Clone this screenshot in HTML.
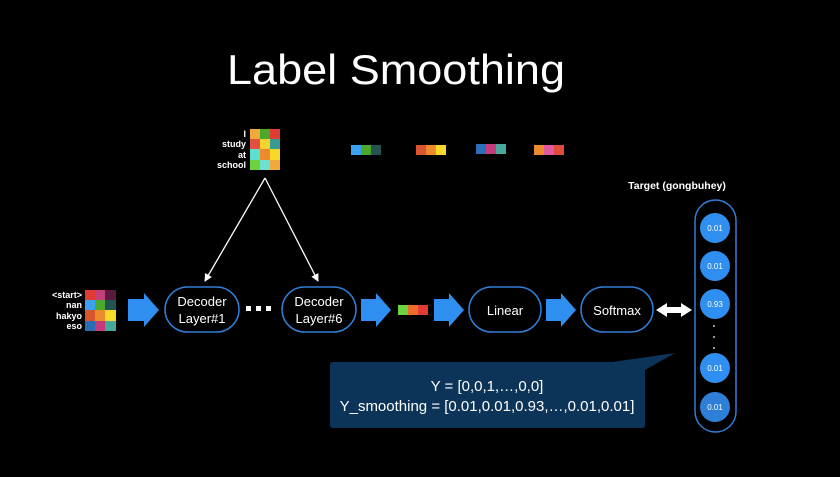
<!DOCTYPE html>
<html><head><meta charset="utf-8"><style>
html,body{margin:0;padding:0;background:#000;}
svg{display:block;font-family:"Liberation Sans",sans-serif;}
</style></head><body>
<svg width="840" height="477" viewBox="0 0 840 477" xmlns="http://www.w3.org/2000/svg">
<rect width="840" height="477" fill="#000"/>
<text x="396" y="84" fill="#fff" font-size="42" text-anchor="middle" textLength="338" lengthAdjust="spacingAndGlyphs">Label Smoothing</text>

<!-- top grid -->
<g font-size="9" font-weight="bold" fill="#fff" text-anchor="end">
<text x="246" y="137">I</text><text x="246" y="147">study</text><text x="246" y="158">at</text><text x="246" y="168">school</text>
</g>
<g>
<rect x="250" y="129" width="10" height="10" fill="#f2a93b"/><rect x="260" y="129" width="10" height="10" fill="#4aa82a"/><rect x="270" y="129" width="10" height="10" fill="#e03c33"/>
<rect x="250" y="139" width="10" height="10" fill="#e4503f"/><rect x="260" y="139" width="10" height="10" fill="#f5d52d"/><rect x="270" y="139" width="10" height="10" fill="#379b92"/>
<rect x="250" y="149" width="10" height="11" fill="#5ee0cf"/><rect x="260" y="149" width="10" height="11" fill="#ee8a2e"/><rect x="270" y="149" width="10" height="11" fill="#f7d92a"/>
<rect x="250" y="160" width="10" height="10" fill="#6cd240"/><rect x="260" y="160" width="10" height="10" fill="#6ee0d2"/><rect x="270" y="160" width="10" height="10" fill="#f2a93b"/>
</g>

<!-- small top vectors -->
<rect x="351" y="145" width="10" height="10" fill="#3aa1f5"/><rect x="361" y="145" width="10" height="10" fill="#4aa82a"/><rect x="371" y="145" width="10" height="10" fill="#245450"/>
<rect x="416" y="145" width="10" height="10" fill="#d9552f"/><rect x="426" y="145" width="10" height="10" fill="#ee8a2e"/><rect x="436" y="145" width="10" height="10" fill="#f7d92a"/>
<rect x="476" y="144" width="10" height="10" fill="#2a6fb6"/><rect x="486" y="144" width="10" height="10" fill="#c43a7b"/><rect x="496" y="144" width="10" height="10" fill="#48a89c"/>
<rect x="534" y="145" width="10" height="10" fill="#ee8a2e"/><rect x="544" y="145" width="10" height="10" fill="#e05aa0"/><rect x="554" y="145" width="10" height="10" fill="#e04c3c"/>

<!-- lines from top grid -->
<defs><marker id="ah" markerWidth="8" markerHeight="8" refX="7" refY="4" orient="auto" markerUnits="userSpaceOnUse"><path d="M0,0 L8,4 L0,8 Z" fill="#fff"/></marker></defs>
<line x1="265" y1="178" x2="205" y2="281" stroke="#fff" stroke-width="1.3" marker-end="url(#ah)"/>
<line x1="265" y1="178" x2="318" y2="281" stroke="#fff" stroke-width="1.3" marker-end="url(#ah)"/>

<!-- left grid -->
<g font-size="9" font-weight="bold" fill="#fff" text-anchor="end">
<text x="82" y="298">&lt;start&gt;</text><text x="82" y="308">nan</text><text x="82" y="319">hakyo</text><text x="82" y="329">eso</text>
</g>
<rect x="85" y="290" width="10" height="10" fill="#e23b34"/><rect x="95" y="290" width="10" height="10" fill="#c33f7c"/><rect x="105" y="290" width="11" height="10" fill="#5a1a3c"/>
<rect x="85" y="300" width="10" height="10" fill="#3aa1f5"/><rect x="95" y="300" width="10" height="10" fill="#4aa82a"/><rect x="105" y="300" width="11" height="10" fill="#245450"/>
<rect x="85" y="310" width="10" height="11" fill="#d9552f"/><rect x="95" y="310" width="10" height="11" fill="#ee8a2e"/><rect x="105" y="310" width="11" height="11" fill="#f7d92a"/>
<rect x="85" y="321" width="10" height="10" fill="#2a6fb6"/><rect x="95" y="321" width="10" height="10" fill="#c43a7b"/><rect x="105" y="321" width="11" height="10" fill="#48a89c"/>

<!-- block arrows -->
<g fill="#2f8ff0">
<path d="M128,299 L144,299 L144,293 L159,310 L144,327 L144,321 L128,321 Z"/>
<path d="M361,299 L376,299 L376,293 L391,310 L376,327 L376,321 L361,321 Z"/>
<path d="M434,299 L449,299 L449,293 L464,310 L449,327 L449,321 L434,321 Z"/>
<path d="M546,299 L561,299 L561,293 L576,310 L561,327 L561,321 L546,321 Z"/>
</g>

<!-- pills -->
<g fill="none" stroke="#2f7fd6" stroke-width="1.5">
<rect x="165" y="287" width="74" height="45" rx="22.5"/>
<rect x="282" y="287" width="74" height="45" rx="22.5"/>
<rect x="469" y="287" width="72" height="45" rx="22.5"/>
<rect x="581" y="287" width="72" height="45" rx="22.5"/>
</g>
<g fill="#fff" font-size="13" text-anchor="middle">
<text x="202" y="306">Decoder</text><text x="202" y="323">Layer#1</text>
<text x="319" y="306">Decoder</text><text x="319" y="323">Layer#6</text>
<text x="505" y="315">Linear</text>
<text x="617" y="315">Softmax</text>
</g>
<g fill="#fff"><rect x="246" y="306" width="5" height="5"/><rect x="256" y="306" width="5" height="5"/><rect x="266" y="306" width="5" height="5"/></g>

<!-- mid vector -->
<rect x="398" y="305" width="10" height="10" fill="#6cd240"/><rect x="408" y="305" width="10" height="10" fill="#ee6a2e"/><rect x="418" y="305" width="10" height="10" fill="#e03c33"/>

<!-- double arrow -->
<path d="M656,310 L667,303 L667,307 L681,307 L681,303 L692,310 L681,317 L681,313 L667,313 L667,317 Z" fill="#fff"/>

<!-- target -->
<text x="677" y="189" fill="#fff" font-size="10.5" font-weight="bold" text-anchor="middle">Target (gongbuhey)</text>
<rect x="695" y="200" width="41" height="232" rx="20.5" fill="none" stroke="#2f7fd6" stroke-width="1.5"/>
<g fill="#2f8ff0">
<circle cx="715" cy="228" r="15"/><circle cx="715" cy="266" r="15"/><circle cx="715" cy="304" r="15"/><circle cx="715" cy="368" r="15"/><circle cx="715" cy="407" r="15" fill="#2e7fd8"/>
</g>
<g fill="#fff" font-size="8" text-anchor="middle">
<text x="715" y="231">0.01</text><text x="715" y="269">0.01</text><text x="715" y="307">0.93</text><text x="715" y="371">0.01</text><text x="715" y="410">0.01</text>
</g>
<g fill="#fff"><circle cx="714" cy="326" r="0.9"/><circle cx="714" cy="337" r="0.9"/><circle cx="714" cy="348" r="0.9"/></g>

<!-- callout -->
<path d="M333,362 L612,362 L675,353 L645,370 L645,425 Q645,428 642,428 L333,428 Q330,428 330,425 L330,365 Q330,362 333,362 Z" fill="#0c3458"/>
<g fill="#fff" font-size="15" text-anchor="middle">
<text x="487" y="391">Y = [0,0,1,…,0,0]</text>
<text x="487" y="411">Y_smoothing = [0.01,0.01,0.93,…,0.01,0.01]</text>
</g>
</svg>
</body></html>
